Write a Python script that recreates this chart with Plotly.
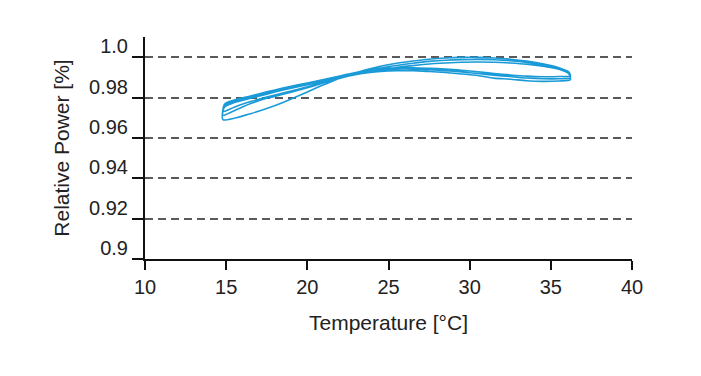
import plotly.graph_objects as go

# Temperature sample points (°C) for heating (up) and cooling (down) sweeps
temp_up = [14.8, 15.5, 16.5, 17.5, 18.5, 19.5, 20.5, 21.5, 22.5, 23.5, 24.5, 25.5,
           26.5, 27.5, 28.5, 29.5, 30.5, 31.5, 32.5, 33.5, 34.5, 35.5, 36.1]
temp_down = [36.2, 35.5, 34.5, 33.5, 32.5, 31.5, 30.5, 29.5, 28.5, 27.5, 26.5, 25.5,
             24.5, 23.5, 22.5, 21.5, 20.5, 19.5, 18.5, 17.5, 16.5, 15.5, 14.9]

# Relative power for three measurement cycles
power_up_c1 = [0.9690, 0.9697, 0.9720, 0.9746, 0.9776, 0.9810, 0.9846, 0.9880, 0.9910, 0.9935,
               0.9955, 0.9970, 0.9981, 0.9990, 0.9996, 0.9999, 0.9999, 0.9996, 0.9990, 0.9981,
               0.9967, 0.9948, 0.9925]
power_down_c1 = [0.9888, 0.9882, 0.9880, 0.9883, 0.9891, 0.9896, 0.9909, 0.9917, 0.9924, 0.9929,
                 0.9933, 0.9933, 0.9929, 0.9920, 0.9906, 0.9891, 0.9872, 0.9855, 0.9837, 0.9817,
                 0.9796, 0.9775, 0.9752]

power_up_c2 = [0.9730, 0.9752, 0.9780, 0.9802, 0.9822, 0.9842, 0.9864, 0.9887, 0.9906, 0.9923,
               0.9937, 0.9949, 0.9958, 0.9966, 0.9971, 0.9975, 0.9976, 0.9975, 0.9971, 0.9965,
               0.9955, 0.9940, 0.9918]
power_down_c2 = [0.9898, 0.9893, 0.9893, 0.9897, 0.9904, 0.9911, 0.9919, 0.9927, 0.9933, 0.9938,
                 0.9941, 0.9941, 0.9937, 0.9927, 0.9911, 0.9894, 0.9876, 0.9859, 0.9842, 0.9822,
                 0.9802, 0.9781, 0.9760]

power_up_c3 = [0.9712, 0.9735, 0.9770, 0.9796, 0.9816, 0.9837, 0.9860, 0.9885, 0.9906, 0.9928,
               0.9946, 0.9959, 0.9970, 0.9979, 0.9985, 0.9988, 0.9989, 0.9987, 0.9982, 0.9974,
               0.9962, 0.9945, 0.9928]
power_down_c3 = [0.9908, 0.9904, 0.9903, 0.9906, 0.9912, 0.9919, 0.9928, 0.9935, 0.9941, 0.9945,
                 0.9948, 0.9948, 0.9944, 0.9933, 0.9916, 0.9898, 0.9880, 0.9864, 0.9847, 0.9828,
                 0.9808, 0.9788, 0.9767]

y_tickvals = [0.9, 0.92, 0.94, 0.96, 0.98, 1.0]
y_ticktext = ["0.9", "0.92", "0.94", "0.96", "0.98", "1.0"]
x_tickvals = [10, 15, 20, 25, 30, 35, 40]

xs = []
ys = []
for pu, pd in [(power_up_c1, power_down_c1), (power_up_c2, power_down_c2), (power_up_c3, power_down_c3)]:
    xs += temp_up + temp_down
    ys += pu + pd
xs.append(temp_up[0])
ys.append(power_up_c1[0])

fig = go.Figure()
fig.add_trace(go.Scatter(
    x=xs, y=ys, mode="lines",
    line=dict(color="#1b9ad8", width=1.6, shape="spline", smoothing=0.7),
    showlegend=False, hoverinfo="skip"))

font = "Liberation Sans, Arial, Helvetica, sans-serif"
fig.update_layout(
    width=701, height=376,
    margin=dict(l=137, r=77, t=29, b=125),
    paper_bgcolor="white", plot_bgcolor="white",
    font=dict(family=font, size=20, color="#222222"),
    showlegend=False,
)
fig.update_xaxes(
    range=[10, 40], tickvals=x_tickvals,
    showline=True, linecolor="#111111", linewidth=2,
    ticks="outside", ticklen=9, tickwidth=2, tickcolor="#111111",
    showgrid=False, zeroline=False,
    title=dict(text="Temperature [°C]", standoff=18, font=dict(size=21)),
    tickfont=dict(size=20),
)
fig.update_yaxes(
    range=[0.9, 1.01], tickvals=y_tickvals, ticktext=y_ticktext,
    showline=True, linecolor="#111111", linewidth=2,
    ticks="outside", ticklen=11, tickwidth=2, tickcolor="#111111",
    showgrid=True, gridcolor="#5a5a5a", gridwidth=1.5, griddash="8px,5px",
    zeroline=False,
    ticklabelshift=-11,
    title=dict(text="Relative Power [%]", standoff=14, font=dict(size=21)),
    tickfont=dict(size=20),
)

fig.write_html("out.html")
